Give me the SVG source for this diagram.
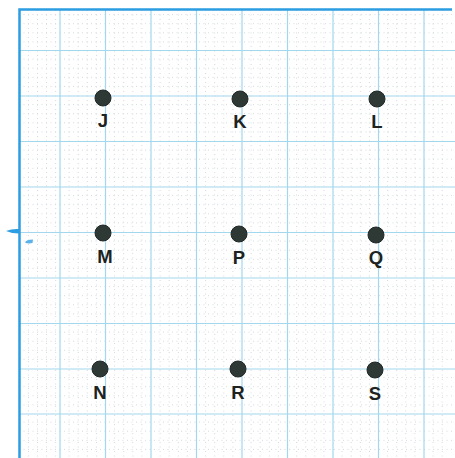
<svg xmlns="http://www.w3.org/2000/svg" width="455" height="458" viewBox="0 0 455 458">
<defs>
<style>
.minor{stroke:#d3dadf;stroke-width:1;stroke-dasharray:1 3.5;fill:none}
.major{stroke:#a3d7ee;stroke-width:1.2;fill:none}
.border{stroke:#2b9de0;stroke-width:2.5;fill:none}
.dot{fill:#2e3935;stroke:#1f2826;stroke-width:1}
.lbl{font-family:"Liberation Sans",Arial,sans-serif;font-weight:bold;font-size:18.5px;fill:#1d2321;text-anchor:middle}
</style>
</defs>
<rect width="455" height="458" fill="#ffffff"/>
<g id="grid">
<g class="minor">
<path d="M28.4 10V458M37.5 10V458M46.6 10V458M55.7 10V458M69.1 10V458M78.2 10V458M87.3 10V458M96.4 10V458M114.6 10V458M123.7 10V458M132.8 10V458M141.9 10V458M160.1 10V458M169.2 10V458M178.3 10V458M187.4 10V458M205.6 10V458M214.7 10V458M223.8 10V458M232.9 10V458M251.1 10V458M260.2 10V458M269.3 10V458M278.4 10V458M296.6 10V458M305.7 10V458M314.8 10V458M323.9 10V458M342.1 10V458M351.2 10V458M360.3 10V458M369.4 10V458M387.6 10V458M396.7 10V458M405.8 10V458M414.9 10V458M433.1 10V458M442.2 10V458"/>
<path d="M19 14.6H455M19 23.7H455M19 32.8H455M19 41.9H455M19 59.1H455M19 68.2H455M19 77.3H455M19 86.4H455M19 104.6H455M19 113.7H455M19 122.8H455M19 131.9H455M19 150.1H455M19 159.2H455M19 168.3H455M19 177.4H455M19 195.6H455M19 204.7H455M19 213.8H455M19 222.9H455M19 241.1H455M19 250.2H455M19 259.3H455M19 268.4H455M19 286.6H455M19 295.7H455M19 304.8H455M19 313.9H455M19 332.1H455M19 341.2H455M19 350.3H455M19 359.4H455M19 377.6H455M19 386.7H455M19 395.8H455M19 404.9H455M19 422.1H455M19 431.2H455M19 440.3H455M19 449.4H455"/>
</g>
<path class="major" d="M60 10V458M105.5 10V458M151 10V458M196.5 10V458M242 10V458M287.5 10V458M333 10V458M378.5 10V458M424 10V458"/>
<path class="major" d="M19 50.5H455M19 96H455M19 141.5H455M19 187H455M19 232.5H455M19 278H455M19 323.5H455M19 369H455M19 414H455"/>
<path class="border" d="M19.5 458V9.5H452"/>
<path d="M6 231Q12 228.5 19 229L19 233.5Q12 233.5 6 231Z" fill="#2b9de0"/>
<path d="M25 242.5Q26 239.5 33 239.5L32.5 243Q28 244 25 242.5Z" fill="#5ab2ea"/>
</g>
<g id="J"><circle class="dot" cx="103" cy="98" r="8"/><text class="lbl" x="103" y="127">J</text></g>
<g id="K"><circle class="dot" cx="240" cy="99" r="8"/><text class="lbl" x="240" y="128">K</text></g>
<g id="L"><circle class="dot" cx="377" cy="99" r="8"/><text class="lbl" x="377" y="128">L</text></g>
<g id="M"><circle class="dot" cx="103" cy="233" r="8"/><text class="lbl" x="105" y="263">M</text></g>
<g id="P"><circle class="dot" cx="239" cy="234" r="8"/><text class="lbl" x="239" y="264">P</text></g>
<g id="Q"><circle class="dot" cx="376" cy="235" r="8"/><text class="lbl" x="376" y="264">Q</text></g>
<g id="N"><circle class="dot" cx="100" cy="369" r="8"/><text class="lbl" x="100" y="399">N</text></g>
<g id="R"><circle class="dot" cx="238" cy="369" r="8"/><text class="lbl" x="238" y="399">R</text></g>
<g id="S"><circle class="dot" cx="375" cy="370" r="8"/><text class="lbl" x="375" y="400">S</text></g>
<g id="connectors"></g>
</svg>
